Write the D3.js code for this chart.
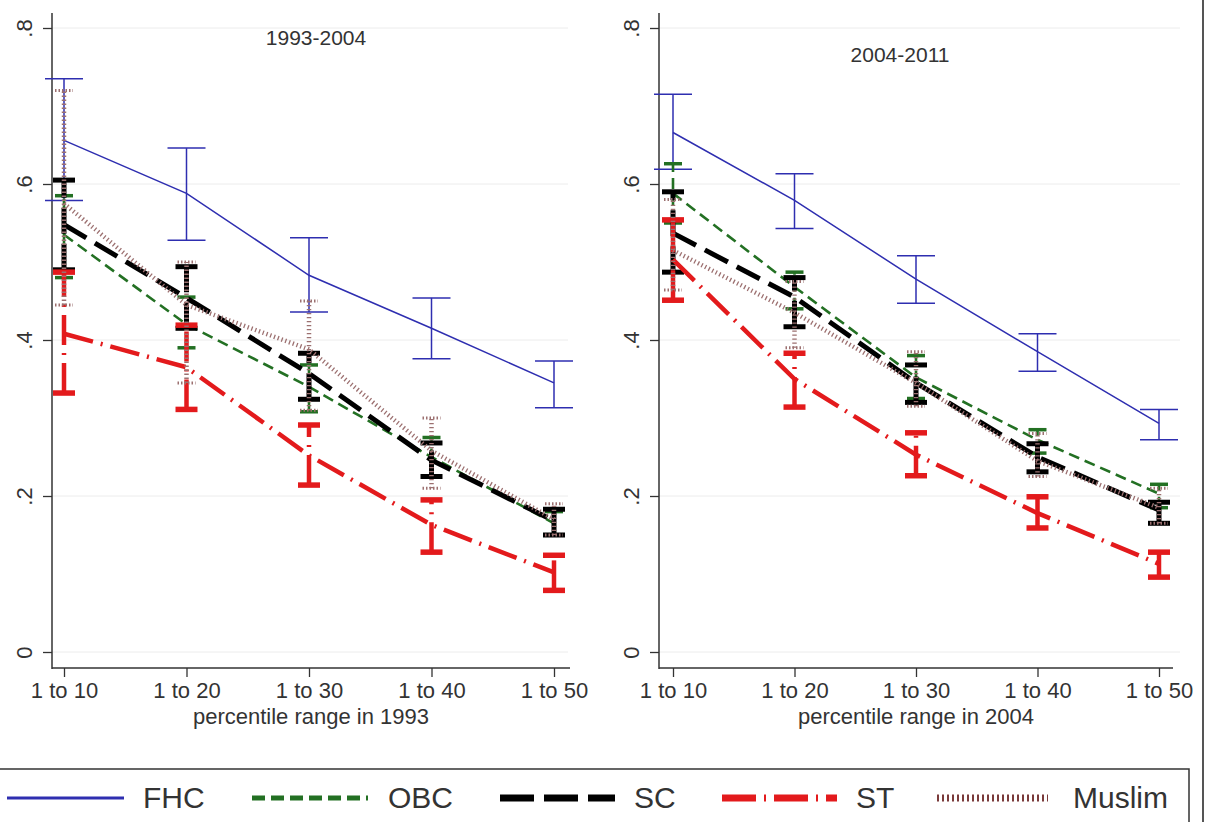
<!DOCTYPE html>
<html>
<head>
<meta charset="utf-8">
<script src="https://cdn.jsdelivr.net/npm/d3@7"></script>
<style>
  html, body { margin: 0; padding: 0; background: #fff; }
  svg { display: block; font-family: "Liberation Sans", Arial, sans-serif; }
</style>
</head>
<body>
<svg id="chart" width="1205" height="822"></svg>
<script>
// ---------- data ----------
const categories = ["1 to 10", "1 to 20", "1 to 30", "1 to 40", "1 to 50"];
const yTickValues = [0, 0.2, 0.4, 0.6, 0.8];
const yTickLabels = ["0", ".2", ".4", ".6", ".8"];
const panelTitles = ["1993-2004", "2004-2011"];
const xAxisTitles = ["percentile range in 1993", "percentile range in 2004"];
const groupNames = ["FHC", "OBC", "SC", "ST", "Muslim"];

// Panel 1: 1993-2004
const fhcMean93 = [0.656, 0.588, 0.483, 0.415, 0.345];
const fhcLo93   = [0.579, 0.528, 0.436, 0.376, 0.313];
const fhcHi93   = [0.735, 0.646, 0.531, 0.454, 0.373];
const obcMean93 = [0.535, 0.420, 0.340, 0.250, 0.165];
const obcLo93   = [0.480, 0.390, 0.308, 0.225, 0.150];
const obcHi93   = [0.585, 0.455, 0.368, 0.275, 0.180];
const scMean93  = [0.548, 0.454, 0.357, 0.246, 0.168];
const scLo93    = [0.490, 0.415, 0.324, 0.225, 0.150];
const scHi93    = [0.605, 0.494, 0.383, 0.268, 0.183];
const stMean93  = [0.408, 0.365, 0.252, 0.163, 0.102];
const stLo93    = [0.332, 0.311, 0.214, 0.128, 0.079];
const stHi93    = [0.487, 0.419, 0.291, 0.195, 0.124];
const musMean93 = [0.575, 0.445, 0.388, 0.258, 0.170];
const musLo93   = [0.445, 0.345, 0.310, 0.210, 0.150];
const musHi93   = [0.720, 0.500, 0.450, 0.300, 0.190];

// Panel 2: 2004-2011
const fhcMean04 = [0.666, 0.579, 0.478, 0.385, 0.293];
const fhcLo04   = [0.619, 0.543, 0.447, 0.360, 0.272];
const fhcHi04   = [0.715, 0.613, 0.508, 0.408, 0.311];
const obcMean04 = [0.588, 0.468, 0.352, 0.272, 0.203];
const obcLo04   = [0.550, 0.440, 0.325, 0.255, 0.185];
const obcHi04   = [0.626, 0.487, 0.380, 0.285, 0.215];
const scMean04  = [0.537, 0.455, 0.345, 0.250, 0.182];
const scLo04    = [0.487, 0.417, 0.320, 0.231, 0.165];
const scHi04    = [0.590, 0.480, 0.368, 0.267, 0.192];
const stMean04  = [0.503, 0.350, 0.253, 0.178, 0.113];
const stLo04    = [0.451, 0.314, 0.226, 0.159, 0.096];
const stHi04    = [0.554, 0.383, 0.281, 0.199, 0.128];
const musMean04 = [0.515, 0.435, 0.345, 0.245, 0.185];
const musLo04   = [0.464, 0.390, 0.315, 0.225, 0.165];
const musHi04   = [0.580, 0.475, 0.385, 0.280, 0.210];

// ---------- styles ----------
const styles = {
  FHC:    { color: "#2e2eb0", width: 1.5, dash: null,        capW: 38, capStroke: 1.5, legW: 3 },
  OBC:    { color: "#237023", width: 2.6, dash: "11,6",      capW: 18, capStroke: 3.5, legW: 5 },
  SC:     { color: "#000000", width: 5,   dash: "26,10",     capW: 22, capStroke: 5,   legW: 7 },
  ST:     { color: "#e31a1c", width: 4.5, dash: "30,8,2,8",  capW: 22, capStroke: 5.5, legW: 7 },
  Muslim: { color: "#9c7070", width: 4.5, dash: "1.3,2.7",   capW: 18, capStroke: 3,   legW: 7 }
};

const panels = [
  {
    title: panelTitles[0], xTitle: xAxisTitles[0],
    axisX: 52, axisRight: 570, gridRight: 568, xRange: [64, 554], titleX: 316, titleY: 45,
    series: {
      FHC: [fhcMean93, fhcLo93, fhcHi93], OBC: [obcMean93, obcLo93, obcHi93],
      SC: [scMean93, scLo93, scHi93], ST: [stMean93, stLo93, stHi93],
      Muslim: [musMean93, musLo93, musHi93]
    }
  },
  {
    title: panelTitles[1], xTitle: xAxisTitles[1],
    axisX: 659, axisRight: 1173, gridRight: 1180, xRange: [673, 1159], titleX: 900, titleY: 62,
    series: {
      FHC: [fhcMean04, fhcLo04, fhcHi04], OBC: [obcMean04, obcLo04, obcHi04],
      SC: [scMean04, scLo04, scHi04], ST: [stMean04, stLo04, stHi04],
      Muslim: [musMean04, musLo04, musHi04]
    }
  }
];

const svg = d3.select("#chart");
const y = d3.scaleLinear().domain([0, 0.8]).range([652, 28]);
const axisY = 668;
const textColor = "#333";

panels.forEach(p => {
  const x = d3.scalePoint().domain(categories).range(p.xRange);
  const g = svg.append("g");

  // gridlines
  g.selectAll("line.grid").data(yTickValues).join("line")
    .attr("x1", p.axisX).attr("x2", p.gridRight)
    .attr("y1", d => y(d)).attr("y2", d => y(d))
    .attr("stroke", "#ececec").attr("stroke-width", 1);

  // y axis
  const ya = g.append("g").attr("transform", `translate(${p.axisX},0)`)
    .call(d3.axisLeft(y).tickValues(yTickValues)
      .tickFormat((d, i) => yTickLabels[i]).tickSize(9).tickSizeOuter(0));
  ya.select(".domain").remove();
  ya.selectAll(".tick line").attr("stroke", "#333").attr("stroke-width", 1.3);
  ya.selectAll(".tick text")
    .attr("transform", "rotate(-90)")
    .attr("x", 0).attr("y", -20).attr("dy", 0)
    .attr("text-anchor", "middle")
    .style("font-size", "22px").attr("fill", textColor);
  g.append("line").attr("x1", p.axisX).attr("x2", p.axisX)
    .attr("y1", 13).attr("y2", axisY + 1)
    .attr("stroke", "#333").attr("stroke-width", 1.5);

  // x axis
  const xa = g.append("g").attr("transform", `translate(0,${axisY})`)
    .call(d3.axisBottom(x).tickSize(9).tickSizeOuter(0));
  xa.select(".domain").remove();
  xa.selectAll(".tick line").attr("stroke", "#333").attr("stroke-width", 1.3);
  xa.selectAll(".tick text").attr("y", 30).attr("dy", 0)
    .style("font-size", "22px").attr("fill", textColor);
  g.append("line").attr("x1", p.axisX).attr("x2", p.axisRight)
    .attr("y1", axisY).attr("y2", axisY)
    .attr("stroke", "#333").attr("stroke-width", 1.5);

  // titles
  g.append("text").attr("x", p.titleX).attr("y", p.titleY)
    .attr("text-anchor", "middle").style("font-size", "21px")
    .attr("fill", textColor).text(p.title);
  g.append("text").attr("x", (p.axisX + p.axisRight) / 2).attr("y", 724)
    .attr("text-anchor", "middle").style("font-size", "22px")
    .attr("fill", textColor).text(p.xTitle);

  // series
  groupNames.forEach(name => {
    const st = styles[name];
    const [mean, lo, hi] = p.series[name];
    const pts = categories.map((c, i) => ({ c, m: mean[i], lo: lo[i], hi: hi[i] }));
    const sg = g.append("g");
    // error bar stems
    sg.selectAll("line.stem").data(pts).join("line")
      .attr("x1", d => x(d.c)).attr("x2", d => x(d.c))
      .attr("y1", d => y(d.lo)).attr("y2", d => y(d.hi))
      .attr("stroke", st.color).attr("stroke-width", name === "FHC" ? 1.5 : st.width)
      .attr("stroke-dasharray", st.dash);
    // caps
    ["lo", "hi"].forEach(k => {
      sg.selectAll("line.cap" + k).data(pts).join("line")
        .attr("x1", d => x(d.c) - st.capW / 2).attr("x2", d => x(d.c) + st.capW / 2)
        .attr("y1", d => y(d[k])).attr("y2", d => y(d[k]))
        .attr("stroke", st.color).attr("stroke-width", st.capStroke)
        .attr("stroke-dasharray", name === "Muslim" ? "1.5,2" : null);
    });
    // line
    sg.append("path").datum(pts)
      .attr("d", d3.line().x(d => x(d.c)).y(d => y(d.m)))
      .attr("fill", "none").attr("stroke", st.color)
      .attr("stroke-width", st.width)
      .attr("stroke-dasharray", st.dash);
  });
});

// outer right border
svg.append("line").attr("x1", 1203).attr("x2", 1203).attr("y1", 0).attr("y2", 822)
  .attr("stroke", "#555").attr("stroke-width", 2);

// legend
const legendBox = svg.append("g");
legendBox.append("rect").attr("x", -5).attr("y", 769).attr("width", 1194).attr("height", 80)
  .attr("fill", "#fff").attr("stroke", "#333").attr("stroke-width", 1.5);
const legendLineX = [7, 252, 500, 722, 937];
const legendLineEnd = [124, 368, 615, 837, 1048];
const legendTextX = [143, 388, 634, 856, 1073];
groupNames.forEach((name, i) => {
  const st = styles[name];
  legendBox.append("line")
    .attr("x1", legendLineX[i]).attr("x2", legendLineEnd[i])
    .attr("y1", 798).attr("y2", 798)
    .attr("stroke", name === "Muslim" ? "#7a3a3a" : st.color).attr("stroke-width", st.legW)
    .attr("stroke-dasharray", name === "SC" ? "34,10" : (name === "Muslim" ? "2,3" : (name === "ST" ? "34,8,2,8" : (name === "OBC" ? "13,6" : null))));
  legendBox.append("text").attr("x", legendTextX[i]).attr("y", 808)
    .style("font-size", "30px").attr("fill", textColor).text(name);
});
</script>
</body>
</html>
